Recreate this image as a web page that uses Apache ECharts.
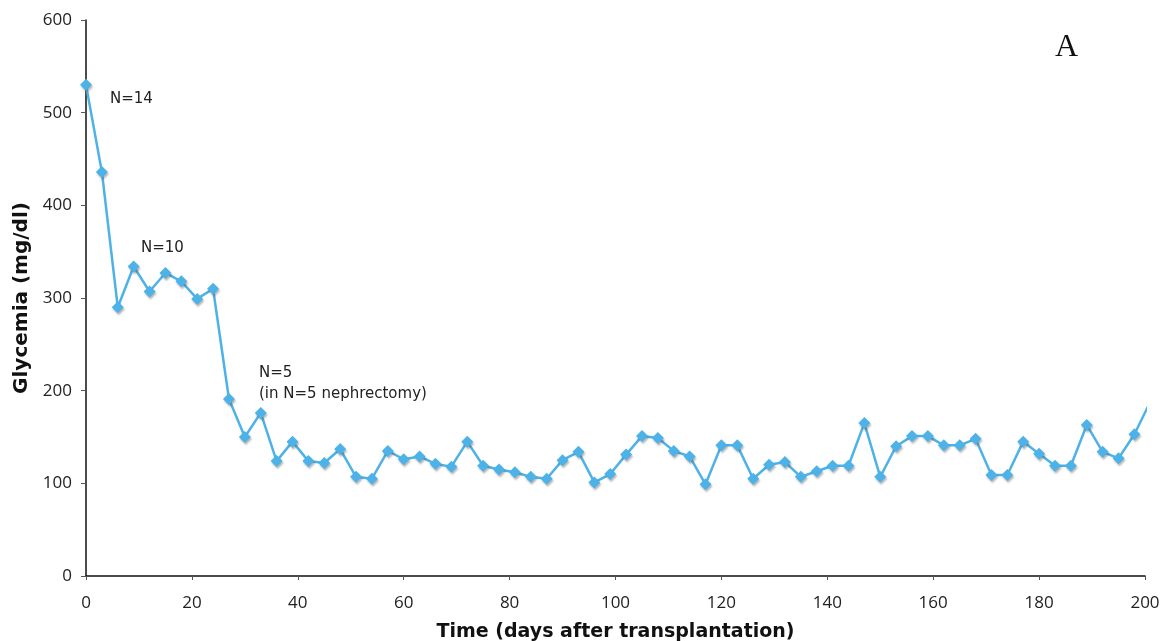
<!DOCTYPE html>
<html>
<head>
<meta charset="utf-8">
<script src="https://cdn.jsdelivr.net/npm/echarts@6/dist/echarts.min.js"></script>
<style>
html,body{margin:0;padding:0;background:#fff;}
#chart{width:1173px;height:641px;}
</style>
</head>
<body>
<div id="chart"></div>
<script>
const days = [0,3,6,9,12,15,18,21,24,27,30,33,36,39,42,45,48,51,54,57,60,63,66,69,72,75,78,81,84,87,90,93,96,99,102,105,108,111,114,117,120,123,126,129,132,135,138,141,144,147,150,153,156,159,162,165,168,171,174,177,180,183,186,189,192,195,198,201];
const glycemia = [530,436,290,334,307,327,318,299,310,191,150,176,124,145,124,122,137,107,105,135,126,129,121,118,145,119,115,112,107,105,125,134,101,110,131,151,149,135,129,99,141,141,105,120,123,107,113,119,119,165,107,140,151,151,141,141,148,109,109,145,132,119,119,163,134,127,153,188];
const xTicks = {min:0, max:200, interval:20};
const yTicks = {min:0, max:600, interval:100};
const notes = [
  {text:'N=14', x:110, y:92},
  {text:'N=10', x:141, y:241},
  {text:'N=5', x:259, y:366},
  {text:'(in N=5 nephrectomy)', x:259, y:387}
];

const chart = echarts.init(document.getElementById('chart'));
const axisTextStyle = {color:'#222', fontFamily:'Open Sans, Lato, sans-serif', fontSize:17};
chart.setOption({
  backgroundColor:'#fff',
  animation:false,
  grid:{left:86, right:28, top:20, bottom:65, containLabel:false, outerBoundsMode:'none'},
  xAxis:{
    type:'value', min:xTicks.min, max:xTicks.max, interval:xTicks.interval,
    name:'Time (days after transplantation)', nameLocation:'middle', nameGap:47,
    nameTextStyle:{fontFamily:'DejaVu Sans', fontWeight:'bold', fontSize:19, color:'#111'},
    axisLine:{show:true, lineStyle:{color:'#111', width:1.5}},
    axisTick:{show:true, length:4, lineStyle:{color:'#555'}},
    axisLabel:Object.assign({margin:19}, axisTextStyle),
    splitLine:{show:false}
  },
  yAxis:{
    type:'value', min:yTicks.min, max:yTicks.max, interval:yTicks.interval,
    name:'Glycemia (mg/dl)', nameLocation:'middle', nameGap:51, nameRotate:90,
    nameTextStyle:{fontFamily:'DejaVu Sans', fontWeight:'bold', fontSize:20, color:'#111'},
    axisLine:{show:true, lineStyle:{color:'#111', width:1.5}},
    axisTick:{show:true, length:5, lineStyle:{color:'#555'}},
    axisLabel:Object.assign({margin:14}, axisTextStyle),
    splitLine:{show:false}
  },
  series:[{
    type:'line',
    data:days.map((d,i)=>[d, glycemia[i]]),
    symbol:'diamond', symbolSize:12, showAllSymbol:true,
    clip:true,
    lineStyle:{color:'#4cb2e8', width:2.5},
    itemStyle:{color:'#4cb2e8', shadowColor:'rgba(90,90,90,0.45)', shadowBlur:2, shadowOffsetY:2, shadowOffsetX:1}
  }],
  graphic: notes.map(n=>({
    type:'text', left:n.x, top:n.y,
    style:{text:n.text, fontFamily:'DejaVu Sans', fontSize:15, fill:'#222'}
  })).concat([{
    type:'text', left:1055, top:32,
    style:{text:'A', fontFamily:'Liberation Serif', fontSize:32, fill:'#111'}
  }])
});
</script>
</body>
</html>
